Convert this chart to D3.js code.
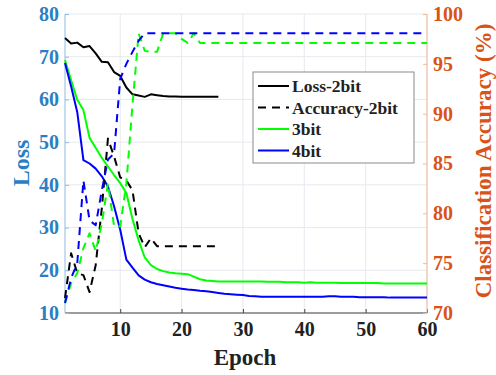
<!DOCTYPE html>
<html><head><meta charset="utf-8">
<script src="https://cdn.jsdelivr.net/npm/d3@7"></script>
<style>body{margin:0;background:#fff}svg{display:block}text{font-family:"Liberation Serif","Times New Roman",serif;font-weight:bold}</style>
</head><body><svg id="c" width="496" height="375"></svg>
<script>
const loss2 = [74.4,73.1,73.3,72.2,72.5,70.8,68.8,68.7,66.4,65.5,62.8,61.2,60.9,60.6,61.2,61.0,60.8,60.7,60.7,60.6,60.6,60.6,60.6,60.6,60.6,60.6];
const acc2 = [71.5,76,74,73.8,72.1,74.8,80.5,87.5,85.7,83.6,83.3,82.3,78,76.6,77.5,76.7,76.7,76.7,76.7,76.7,76.7,76.7,76.7,76.7,76.7,76.7];
const loss3 = [69.2,64.5,59.9,57.5,51,48.7,46.3,44.3,42.3,40.4,38.1,32,27,23,21.2,20.3,19.8,19.5,19.3,19.2,19.1,18.5,17.9,17.6,17.5,17.4,17.4,17.4,17.4,17.4,17.4,17.4,17.4,17.3,17.3,17.3,17.2,17.2,17.2,17.1,17.2,17.1,17.1,17.1,17.1,17.0,17.0,17.0,17.0,17.0,17.0,17.0,16.9,16.9,16.9,16.9,16.9,16.9,16.9,16.9];
const acc3 = [71,73,74,76.5,78,76.2,79,83,78.7,78.7,83,90.9,98.06,96.3,96.2,96.2,98.06,98.06,98.06,97.5,97.1,98.06,97.1,97.1,97.1,97.1,97.1,97.1,97.1,97.1,97.1,97.1,97.1,97.1,97.1,97.1,97.1,97.1,97.1,97.1,97.1,97.1,97.1,97.1,97.1,97.1,97.1,97.1,97.1,97.1,97.1,97.1,97.1,97.1,97.1,97.1,97.1,97.1,97.1,97.1];
const loss4 = [68.5,63,57,45.8,45,43.8,42,39.6,35,29.5,22.5,20.6,18.8,17.8,17.2,16.8,16.5,16.2,15.9,15.7,15.5,15.4,15.2,15.1,14.9,14.7,14.5,14.4,14.3,14.2,14.0,13.9,13.8,13.8,13.8,13.8,13.8,13.8,13.8,13.8,13.8,13.8,13.8,13.9,13.9,13.8,13.8,13.8,13.7,13.7,13.7,13.7,13.7,13.6,13.6,13.6,13.6,13.6,13.6,13.6];
const acc4 = [71,73.5,75,83.3,79.3,78.8,82.3,85.4,86,93.5,95,96.2,97.3,98.06,98.06,98.06,98.06,98.06,98.06,98.06,98.06,98.06,98.06,98.06,98.06,98.06,98.06,98.06,98.06,98.06,98.06,98.06,98.06,98.06,98.06,98.06,98.06,98.06,98.06,98.06,98.06,98.06,98.06,98.06,98.06,98.06,98.06,98.06,98.06,98.06,98.06,98.06,98.06,98.06,98.06,98.06,98.06,98.06,98.06,98.06];
const xTicks = [10,20,30,40,50,60];
const lossTicks = [10,20,30,40,50,60,70,80];
const accTicks = [70,75,80,85,90,95,100];
const legendItems = [
  {label:"Loss-2bit", color:"#000", dash:null},
  {label:"Accuracy-2bit", color:"#000", dash:"8,6"},
  {label:"3bit", color:"#00ff00", dash:null},
  {label:"4bit", color:"#0000ff", dash:null}
];

const blue = "#2a7fc4", orange = "#d95319";
const svg = d3.select("#c");
const L = 65, R = 427, T = 14, B = 313;
const x = d3.scaleLinear().domain([1,60]).range([L,R]);
const yL = d3.scaleLinear().domain([10,80]).range([B,T]);
const yR = d3.scaleLinear().domain([70,100]).range([B,T]);

const g = svg.append("g");
g.selectAll(".vg").data(xTicks).join("line").attr("x1",d=>x(d)).attr("x2",d=>x(d)).attr("y1",T).attr("y2",B).attr("stroke","#e6e9ef").attr("stroke-width",1);
g.selectAll(".hg").data(lossTicks).join("line").attr("x1",L).attr("x2",R).attr("y1",d=>yL(d)).attr("y2",d=>yL(d)).attr("stroke","#e6e9ef").attr("stroke-width",1);

const ax = d3.axisBottom(x).tickValues(xTicks).tickSize(-4).tickPadding(9);
const axB = svg.append("g").attr("transform",`translate(0,${B})`).call(ax);
axB.select(".domain").attr("stroke","#444").attr("d",`M${L},0H${R}`);
axB.selectAll(".tick line").attr("stroke","#444");
axB.selectAll("text").attr("font-size",20).attr("fill","#222").attr("font-family","Liberation Serif").attr("font-weight","bold");

const aL = d3.axisLeft(yL).tickValues(lossTicks).tickSize(-4).tickPadding(6);
const axL = svg.append("g").attr("transform",`translate(${L},0)`).call(aL);
axL.select(".domain").attr("stroke","#8fbde0").attr("d",`M0,${T}V${B}`);
axL.selectAll(".tick line").attr("stroke","#8fbde0");
axL.selectAll("text").attr("font-size",20).attr("fill",blue).attr("font-family","Liberation Serif").attr("font-weight","bold");

const aR = d3.axisRight(yR).tickValues(accTicks).tickSize(-4).tickPadding(6);
const axR = svg.append("g").attr("transform",`translate(${R},0)`).call(aR);
axR.select(".domain").attr("stroke","#f2b896").attr("d",`M0,${T}V${B}`);
axR.selectAll(".tick line").attr("stroke","#f2b896");
axR.selectAll("text").attr("font-size",20).attr("fill",orange).attr("font-family","Liberation Serif").attr("font-weight","bold");

const lineL = d3.line().x((d,i)=>x(i+1)).y(d=>yL(d));
const lineR = d3.line().x((d,i)=>x(i+1)).y(d=>yR(d));
const series = [
  {d:loss2, f:lineL, c:"#000", dash:null},
  {d:loss3, f:lineL, c:"#00ff00", dash:null},
  {d:loss4, f:lineL, c:"#0000ff", dash:null},
  {d:acc2, f:lineR, c:"#000", dash:"8,6"},
  {d:acc3, f:lineR, c:"#00ff00", dash:"8,6"},
  {d:acc4, f:lineR, c:"#0000ff", dash:"8,6"}
];
series.forEach(s=>{
  svg.append("path").attr("d",s.f(s.d)).attr("fill","none").attr("stroke",s.c).attr("stroke-width",2)
    .attr("stroke-dasharray",s.dash).attr("stroke-linejoin","round");
});

const lg = svg.append("g");
lg.append("rect").attr("x",253).attr("y",72).attr("width",161).attr("height",91).attr("fill","#fff").attr("stroke","#8a8a8a").attr("stroke-width",1);
legendItems.forEach((it,i)=>{
  const yy = 86 + i*21.5;
  lg.append("line").attr("x1",258).attr("x2",289).attr("y1",yy).attr("y2",yy).attr("stroke",it.color).attr("stroke-width",2).attr("stroke-dasharray",it.dash);
  lg.append("text").attr("x",292).attr("y",yy+6).attr("font-size",17.5).attr("fill","#222").text(it.label);
});

svg.append("text").attr("x",245).attr("y",365).attr("text-anchor","middle").attr("font-size",23).attr("fill","#222").text("Epoch");
svg.append("text").attr("transform","translate(29,163) rotate(-90)").attr("text-anchor","middle").attr("font-size",24).attr("fill",blue).text("Loss");
svg.append("text").attr("transform","translate(491,161) rotate(-90)").attr("text-anchor","middle").attr("font-size",23).attr("fill",orange).text("Classification Accuracy (%)");
</script></body></html>
